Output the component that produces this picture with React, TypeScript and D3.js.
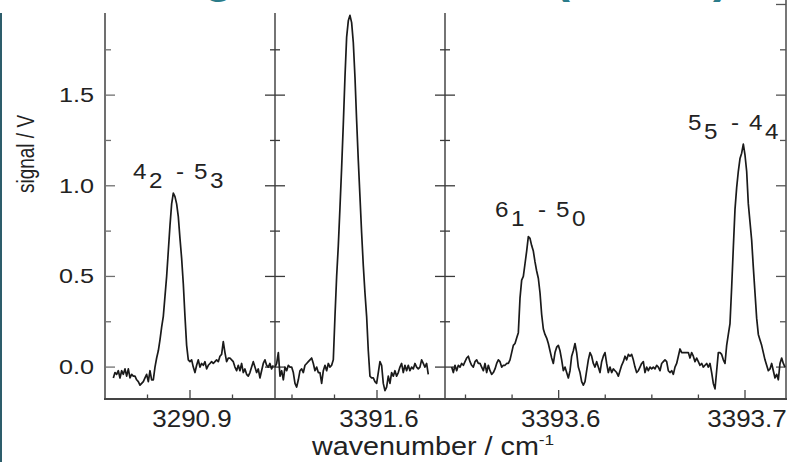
import React from "react";
import * as d3 from "d3";

// spectra, sampled on an even wavenumber grid (start, step, signal in V)
const p1Start = 3290.8549;
const p1Step = 0.00098;
const p1Signal = [
  -0.06, -0.03, -0.04, -0.02, -0.06, -0.02, -0.04, -0.01, -0.05, -0.01, -0.06, -0.04, -0.05, -0.05, -0.07, -0.08,
  -0.1, -0.09, -0.08, -0.06, -0.04, -0.08, -0.02, -0.07, -0.07, 0.0, 0.05, 0.09, 0.15, 0.22, 0.28, 0.39, 0.5,
  0.64, 0.78, 0.9, 0.96, 0.94, 0.9, 0.83, 0.71, 0.6, 0.46, 0.28, 0.12, 0.04, 0.03, 0.04, 0.0, -0.03, 0.01, 0.04,
  0.0, 0.02, 0.01, 0.03, -0.01, 0.01, 0.02, 0.03, 0.02, 0.03, 0.04, 0.03, 0.06, 0.07, 0.14, 0.08, 0.03, 0.05,
  0.05, 0.04, 0.03, 0.0, -0.02, 0.01, -0.02, 0.02, -0.03, -0.01, -0.04, -0.05, -0.03, 0.0, 0.03, 0.0, -0.03,
  -0.01, -0.06, -0.02, 0.02, 0.04, 0.01, 0.0, 0.02, -0.01, 0.01,
];

const p2Start = 3391.54;
const p2Step = 0.00098;
const p2Signal = [
  0.0, 0.02, 0.08, -0.05, -0.02, -0.07, 0.0, -0.02, 0.01, 0.0, 0.0, -0.03, -0.09, -0.11, -0.07, -0.02, -0.01,
  -0.03, 0.01, 0.02, 0.03, 0.04, 0.05, 0.02, -0.02, 0.0, -0.03, -0.03, -0.09, -0.02, 0.01, -0.02, 0.02, 0.0,
  0.01, 0.04, 0.28, 0.5, 0.67, 0.88, 1.1, 1.34, 1.6, 1.82, 1.91, 1.94, 1.9, 1.79, 1.6, 1.36, 1.14, 0.94, 0.74,
  0.56, 0.41, 0.28, 0.09, -0.05, -0.06, -0.06, -0.08, -0.09, -0.03, 0.03, 0.01, -0.09, -0.13, -0.11, -0.05,
  -0.09, -0.03, -0.05, -0.02, -0.05, -0.03, 0.0, 0.02, -0.03, 0.01, -0.02, 0.01, -0.02, 0.0, -0.01, 0.02, 0.0,
  -0.01, 0.0, 0.04, 0.02, 0.0, 0.02, -0.04,
];

const p3Start = 3393.54258;
const p3Step = 0.0008944;
const p3Signal = [
  0.0, -0.03, 0.01, -0.02, 0.01, 0.0, 0.02, 0.01, 0.03, 0.05, 0.06, 0.03, 0.01, 0.0, 0.03, 0.04, 0.02, 0.02,
  0.0, -0.02, 0.02, -0.03, 0.01, -0.02, -0.04, -0.03, -0.01, 0.02, 0.04, 0.03, 0.0, 0.01, 0.01, 0.02, 0.02,
  0.04, 0.08, 0.12, 0.13, 0.16, 0.19, 0.38, 0.48, 0.5, 0.57, 0.64, 0.72, 0.71, 0.67, 0.64, 0.58, 0.53, 0.49,
  0.41, 0.29, 0.21, 0.18, 0.16, 0.13, 0.09, 0.05, 0.02, 0.08, 0.11, 0.12, 0.09, 0.04, -0.02, 0.0, -0.03, -0.06,
  -0.02, 0.06, 0.09, 0.13, 0.08, 0.0, -0.03, -0.08, -0.1, -0.08, -0.02, 0.04, 0.08, 0.06, 0.02, 0.0, 0.03, 0.0,
  -0.03, 0.03, 0.06, 0.08, 0.02, -0.03, 0.0, -0.03, -0.01, -0.02,
  -0.03, -0.05, -0.02, 0.01, 0.03, 0.06, 0.04, 0.07, 0.06, 0.07, 0.04, 0.0, -0.03, -0.02, 0.0, 0.02, 0.03,
  -0.03, 0.0, -0.02, 0.0, -0.01, 0.0, -0.01, 0.01, 0.0, -0.02, 0.02, 0.03, 0.04, 0.03, -0.02, -0.03, -0.02,
  -0.04, 0.0, 0.02, 0.06, 0.1, 0.08, 0.08, 0.08, 0.08, 0.08, 0.05, 0.08, 0.06, 0.03, 0.05, 0.03, 0.01, 0.02,
  0.0, 0.01, 0.02, 0.0, 0.02, -0.03, -0.09, -0.12, -0.02, 0.08, 0.08, 0.07, 0.04, 0.02, 0.12, 0.18, 0.24, 0.44,
  0.66, 0.87, 0.99, 1.08, 1.15, 1.18, 1.23, 1.17, 1.08, 0.9, 0.8, 0.7, 0.55, 0.41, 0.27, 0.18, 0.15, 0.12,
  0.08, 0.04, 0.01, -0.02, -0.01, 0.02, -0.02, -0.06, -0.04, -0.07, 0.02, 0.05, 0.02, 0.0,
];

// axis ticks
const yMajor = [0, 0.5, 1.0, 1.5];
const yMinor = [0.25, 0.75, 1.25, 1.75];
const p1Ticks = [3290.875, 3290.9, 3290.925];
const p1Labels = [3290.9];
const p2Ticks = [3391.55, 3391.575, 3391.6, 3391.625];
const p2Labels = [3391.6];
const p3Ticks = [3393.55, 3393.575, 3393.6, 3393.625, 3393.65, 3393.675, 3393.7];
const p3Labels = [3393.6, 3393.7];

// transition labels: panel, anchor wavenumber, anchor signal, parts
const peakLabels = [
  { panel: 0, wn: 3290.8665, v: 1.04, a: "4", aSub: "2", b: "5", bSub: "3" },
  { panel: 2, wn: 3393.5658, v: 0.827, a: "6", aSub: "1", b: "5", bSub: "0" },
  { panel: 2, wn: 3393.6694, v: 1.307, a: "5", aSub: "5", b: "4", bSub: "4" },
];

const FONT = "'Liberation Sans', Arial, Helvetica, sans-serif";

export default function App() {
  const width = 790;
  const height = 462;
  const top = 13;
  const bottom = 399;
  const y = d3.scaleLinear().domain([-0.176, 1.953]).range([bottom, top]);

  const panels = [
    { x: d3.scaleLinear().domain([3290.85, 3290.95]).range([105, 275]), start: p1Start, step: p1Step, values: p1Signal, ticks: p1Ticks, labels: p1Labels },
    { x: d3.scaleLinear().domain([3391.54, 3391.64]).range([275, 445]), start: p2Start, step: p2Step, values: p2Signal, ticks: p2Ticks, labels: p2Labels },
    { x: d3.scaleLinear().domain([3393.539, 3393.722]).range([445, 786]), start: p3Start, step: p3Step, values: p3Signal, ticks: p3Ticks, labels: p3Labels },
  ];

  const axisColor = "#3a3a3a";

  // vertical axes: left, two separators, right
  const vAxes = [
    { x: 105, y0: top, dirMajor: [0, 10], dirMinor: [0, 6], color: "#707070", w: 2 },
    { x: 275, y0: top, dirMajor: [-10, 10], dirMinor: [-5, 5], color: axisColor, w: 1.4 },
    { x: 445, y0: top, dirMajor: [-10, 10], dirMinor: [-5, 5], color: axisColor, w: 1.4 },
    { x: 786, y0: 0, dirMajor: [-10, 0], dirMinor: [-6, 0], color: "#555", w: 1.6 },
  ];

  return (
    <svg width={width} height={height} style={{ position: "absolute", left: 0, top: 0, background: "#fff" }}>
      <rect x={0} y={0} width={width} height={height} fill="#fff" />
      {/* clipped slide heading above the chart */}
      <g fill="#2b7c8a" fontFamily={FONT} fontWeight="bold" fontSize={48}>
        <text x={204} y={-8}>g</text>
        <text x={554} y={-8}>(</text>
        <text x={713} y={-8}>)</text>
      </g>
      <rect x={0} y={13} width={2} height={height - 13} fill="#2d5d6b" />

      {/* vertical axes */}
      {vAxes.map((a, i) => (
        <g key={"va" + i} stroke={a.color} strokeWidth={a.w}>
          <line x1={a.x} x2={a.x} y1={a.y0} y2={bottom} />
          {yMajor.concat(i === 3 ? [2.0] : []).map((t) => (
            <line key={"M" + t} x1={a.x + a.dirMajor[0]} x2={a.x + a.dirMajor[1]} y1={y(t)} y2={y(t)} strokeWidth={1.3} />
          ))}
          {yMinor.map((t) => (
            <line key={"m" + t} x1={a.x + a.dirMinor[0]} x2={a.x + a.dirMinor[1]} y1={y(t)} y2={y(t)} strokeWidth={1.3} />
          ))}
        </g>
      ))}

      {/* bottom axis */}
      <line x1={104} x2={787} y1={bottom} y2={bottom} stroke="#444" strokeWidth={2} />
      {panels.map((p, i) => (
        <g key={"xt" + i} stroke="#444" strokeWidth={1.3}>
          {p.ticks.map((t) => (
            <line key={t} x1={p.x(t)} x2={p.x(t)} y1={bottom} y2={bottom - (p.labels.includes(t) ? 9 : 4.5)} />
          ))}
        </g>
      ))}

      {/* spectra */}
      {panels.map((p, i) => {
        const line = d3
          .line<number>()
          .x((_, k) => p.x(p.start + k * p.step))
          .y((v) => y(v));
        return <path key={"tr" + i} d={line(p.values) || ""} fill="none" stroke="#1a1a1a" strokeWidth={1.7} strokeLinejoin="round" />;
      })}

      {/* y tick labels */}
      <g fontFamily={FONT} fontSize={21} fill="#222">
        {yMajor.map((t) => (
          <text key={t} transform={`translate(94,${y(t) + 7}) scale(1.2,1)`} textAnchor="end">
            {t.toFixed(1)}
          </text>
        ))}
      </g>

      {/* x tick labels */}
      <g fontFamily={FONT} fontSize={23} fill="#222">
        {panels.map((p) =>
          p.labels.map((t) => (
            <text key={t} transform={`translate(${p.x(t) + 2},426.5) scale(1.13,1)`} textAnchor="middle">
              {t.toFixed(1)}
            </text>
          ))
        )}
      </g>

      {/* axis titles */}
      <text transform="translate(34,154) scale(1.3,1) rotate(-90)" textAnchor="middle" fontFamily={FONT} fontSize={19} fill="#222">
        signal / V
      </text>
      <text transform="translate(312,455) scale(1.15,1)" fontFamily={FONT} fontSize={25} fill="#222">
        wavenumber / cm
        <tspan dy={-10} fontSize={15}>-1</tspan>
      </text>

      {/* peak assignments */}
      {peakLabels.map((l, i) => {
        const px = panels[l.panel].x(l.wn);
        const py = y(l.v);
        const parts = [
          { t: l.a, dx: 0, dy: 0 },
          { t: l.aSub, dx: 16, dy: 9 },
          { t: "-", dx: 43, dy: 0 },
          { t: l.b, dx: 61, dy: 0 },
          { t: l.bSub, dx: 77, dy: 9 },
        ];
        return (
          <g key={"pl" + i} fontFamily={FONT} fontSize={22} fill="#222">
            {parts.map((pt, k) => (
              <text key={k} transform={`translate(${px + pt.dx},${py + pt.dy}) scale(1.1,1)`}>
                {pt.t}
              </text>
            ))}
          </g>
        );
      })}
    </svg>
  );
}
